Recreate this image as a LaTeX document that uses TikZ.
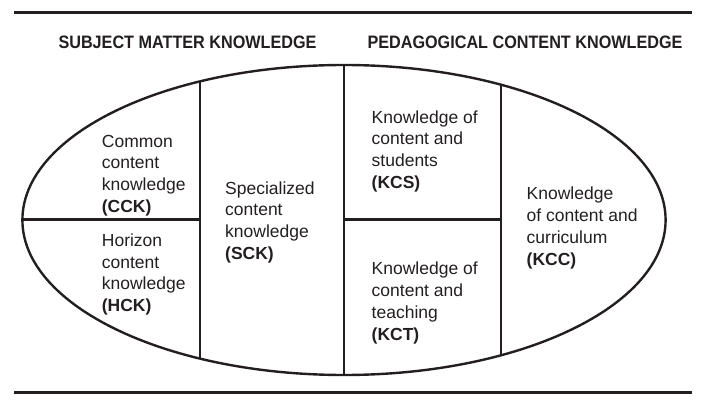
\documentclass[tikz,border=0pt]{standalone}
\usepackage{fontspec}
\setmainfont{Liberation Sans}
\definecolor{ink}{HTML}{231F20}
\begin{document}
\begin{tikzpicture}[x=1pt,y=-1pt,
  ln/.style={draw=ink,line width=2.4pt},
  rule/.style={draw=ink,line width=2.6pt},
  txt/.style={anchor=base west,inner sep=0pt,align=left,text=ink,
    font=\fontsize{17.5}{21.7}\selectfont},
  head/.style={inner sep=0pt,text=ink,font=\fontsize{18}{20}\selectfont\bfseries}]
\useasboundingbox (0,0) rectangle (713,414);
\draw[rule] (14,12.5) coordinate (t1) -- (692,12.5) coordinate (t2);
\draw[rule] (14,392.5) coordinate (b1) -- (692,392.5) coordinate (b2);
\node[head] (smk) at (187.5,42) {\scalebox{0.9}[1]{SUBJECT MATTER KNOWLEDGE}};
\node[head] (pck) at (525,42) {\scalebox{0.9}[1]{PEDAGOGICAL CONTENT KNOWLEDGE}};
\coordinate (c) at (344,220);
\begin{scope}
  \clip (c) ellipse [x radius=321.6pt, y radius=155pt];
  \draw[ln] (200,0) -- (200,414);
  \draw[ln] (344,0) -- (344,414);
  \draw[ln] (501,0) -- (501,414);
  \draw[ln] (0,219.7) -- (200,219.7);
  \draw[ln] (344,219.7) -- (501,219.7);
\end{scope}
\draw[ln] (c) ellipse [x radius=321.6pt, y radius=155pt];
\node[txt] (cck) at (101.7,212.4) {Common\\content\\knowledge\\\textbf{(CCK)}};
\node[txt] (hck) at (101.7,311.6) {Horizon\\content\\knowledge\\\textbf{(HCK)}};
\node[txt] (sck) at (225,259.4) {Specialized\\content\\knowledge\\\textbf{(SCK)}};
\node[txt] (kcs) at (371.5,188.4) {Knowledge of\\content and\\students\\\textbf{(KCS)}};
\node[txt] (kct) at (371.5,340.1) {Knowledge of\\content and\\teaching\\\textbf{(KCT)}};
\node[txt] (kcc) at (526.5,265.1) {Knowledge\\of content and\\curriculum\\\textbf{(KCC)}};
\end{tikzpicture}
\end{document}
